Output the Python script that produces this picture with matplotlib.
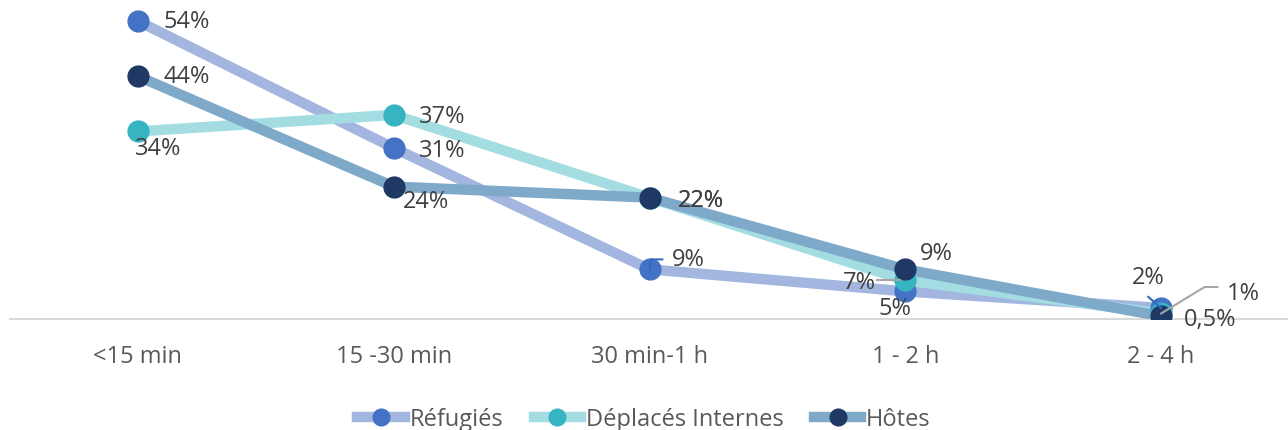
import matplotlib.pyplot as plt
from matplotlib.lines import Line2D

plt.rcParams['font.family'] = ['Open Sans', 'DejaVu Sans']

durees = ["<15 min", "15 -30 min", "30 min-1 h", "1 - 2 h", "2 - 4 h"]
refugies = [54, 31, 9, 5, 2]
deplaces = [34, 37, 22, 7, 1]
hotes = [44, 24, 22, 9, 0.5]

etiquettes_ref = ["54%", "31%", "9%", "5%", "2%"]
etiquettes_dep = ["34%", "37%", "22%", "7%", "1%"]
etiquettes_hot = ["44%", "24%", "22%", "9%", "0,5%"]

series = [
    ("Réfugiés", refugies, etiquettes_ref, "#A2B6E0", "#4472C4"),
    ("Déplacés Internes", deplaces, etiquettes_dep, "#A3DDE2", "#36B4C2"),
    ("Hôtes", hotes, etiquettes_hot, "#7FA9C9", "#1F3864"),
]

# position of each label relative to its point (dx in categories, dy in %)
decalages = {
    "Réfugiés": [(0.19, 0), (0.19, -0.4), (0.15, 1.9), (-0.04, -3.0), (-0.05, 5.6)],
    "Déplacés Internes": [(0.08, -3.0), (0.19, -0.2), (0.2, -0.4), (-0.18, -0.3), (0.32, 3.7)],
    "Hôtes": [(0.19, 0), (0.125, -2.6), (0.2, -0.4), (0.12, 2.9), (0.19, -0.5)],
}
# leader lines, as offsets from the point: (serie, index) -> (dxs, dys, colour)
guides = {
    ("Réfugiés", 2): ([0, 0.005, 0.05], [0, 1.8, 1.8], "#2E6BC0"),
    ("Réfugiés", 4): ([0, -0.05], [0, 2.0], "#2E6BC0"),
    ("Déplacés Internes", 3): ([-0.02, -0.11], [0, 0], "#A6A6A6"),
    ("Déplacés Internes", 4): ([0, 0.17, 0.22], [0, 4.8, 4.8], "#A6A6A6"),
}

fig = plt.figure(figsize=(12.88, 4.31), dpi=100)
ax = fig.add_axes([10 / 1288, 111 / 431, 1279 / 1288, 320 / 431])

x = list(range(len(durees)))
handles = []
for k, (nom, vals, etiq, c_ligne, c_point) in enumerate(series):
    ax.plot(x, vals, color=c_ligne, lw=7.5, solid_capstyle="round", zorder=2 + k)
    ax.plot(x, vals, ls="none", marker="o", ms=15, color=c_point, zorder=5 + k)
    for i, (v, t) in enumerate(zip(vals, etiq)):
        dx, dy = decalages[nom][i]
        ax.text(i + dx, v + dy, t, ha="center", va="center", fontsize=17,
                color="#404040", zorder=10)
        if (nom, i) in guides:
            gx, gy, couleur = guides[(nom, i)]
            ax.plot([i + a for a in gx], [v + b for b in gy], color=couleur,
                    lw=1.5, zorder=9)
    handles.append(Line2D([], [], color=c_ligne, lw=7.5, marker="o", ms=12,
                          markerfacecolor=c_point, markeredgecolor=c_point))

ax.set_xlim(-0.5, 4.5)
ax.set_ylim(0, 58)
ax.set_xticks(x)
ax.set_xticklabels(durees, fontsize=17, color="#595959")
ax.tick_params(axis="x", length=0, pad=18)
ax.set_yticks([])
for s in ["top", "right", "left"]:
    ax.spines[s].set_visible(False)
ax.spines["bottom"].set_color("#D9D9D9")
ax.spines["bottom"].set_linewidth(1.5)
ax.spines["bottom"].set_zorder(1)

fig.legend(handles, [s[0] for s in series], loc="center", ncol=3,
           bbox_to_anchor=(0.5, 11 / 431), frameon=False, fontsize=17,
           labelcolor="#595959", handlelength=2.0, handletextpad=0.2,
           columnspacing=1.3)

fig.savefig("out.png", dpi=100)
